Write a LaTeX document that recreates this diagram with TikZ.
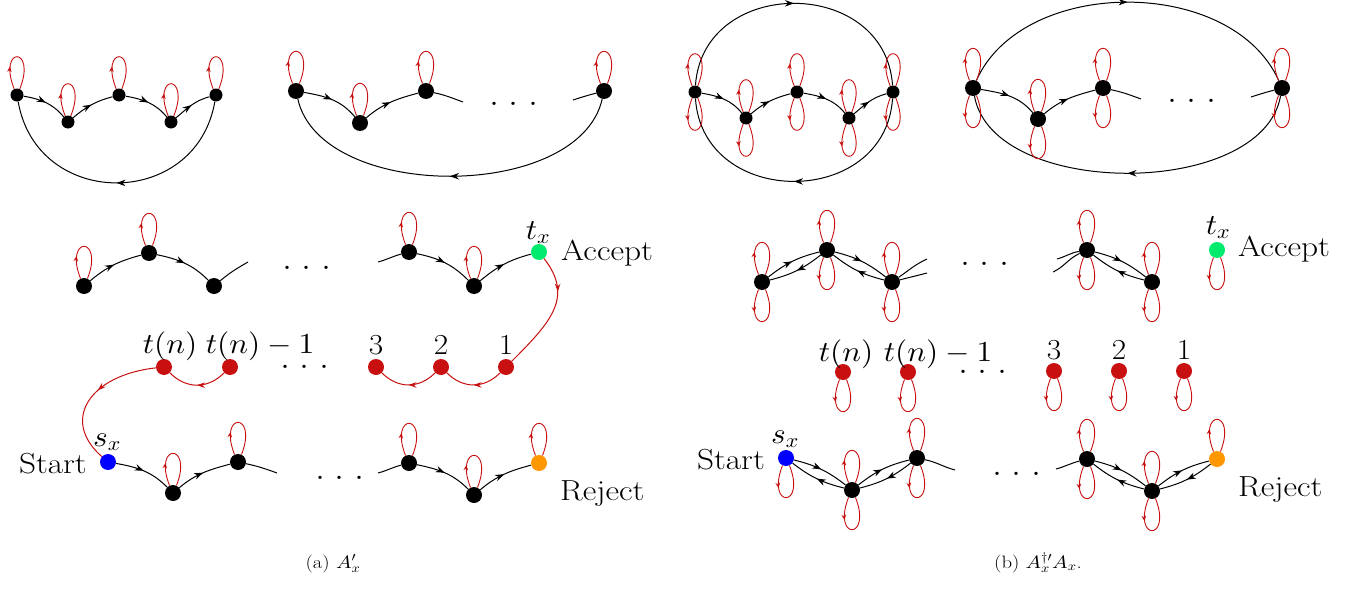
\documentclass[tikz,border=0pt]{standalone}
\usepackage{fontspec}
\DeclareFontShape{OML}{cmm}{m}{it}{<->cmmi10}{}
\DeclareFontShape{OMS}{cmsy}{m}{n}{<->cmsy10}{}
\DeclareFontShape{OT1}{cmr}{m}{n}{<->cmr10}{}
\usetikzlibrary{arrows.meta,decorations.markings}
\definecolor{myred}{RGB}{200,16,16}
\definecolor{mygreen}{RGB}{0,235,110}
\definecolor{myblue}{RGB}{0,0,255}
\definecolor{myorange}{RGB}{255,152,0}
\newcommand\uplp[1]{\draw[lpst] (#1.115) .. controls +(-17,43) and +(17,43) .. (#1.65);}
\newcommand\dnlp[1]{\draw[lpst] (#1.245) .. controls +(-17,-43) and +(17,-43) .. (#1.295);}
\newcommand\thdots{{\fontsize{40}{40}\selectfont.\kern9.4pt.\kern9.4pt.}}
\newcommand\wx[1]{\scalebox{1.15}[1]{#1}}
\newcommand\mx[1]{\scalebox{1.08}[1]{#1}}
\begin{document}
\begin{tikzpicture}[x=1pt,y=1pt,
 stn/.style={circle,fill=black,inner sep=0pt,minimum size=16pt},
 sml/.style={stn,minimum size=13pt},
 ed/.style={line width=1pt, postaction={decorate}, decoration={markings, mark=at position #1 with {\arrow{Stealth[length=9pt,width=6.5pt]}}}},
 ed/.default=0.5,
 redge/.style={myred, line width=1pt, postaction={decorate}, decoration={markings, mark=at position #1 with {\arrow{Stealth[length=8pt,width=5.5pt]}}}},
 redge/.default=0.5,
 stub/.style={line width=1pt},
 lpst/.style={myred, line width=0.9pt, postaction={decorate}, decoration={markings, mark=at position 0.32 with {\arrow{Stealth[length=5.5pt,width=4.5pt]}}}},
 lbl/.style={font=\fontsize{29}{32}\selectfont, inner sep=0pt},
 captxt/.style={font=\fontsize{18}{20}\selectfont, inner sep=0pt}]
\useasboundingbox (0,0) rectangle (1369,-589);

% ================= (a) =================
\node[sml] (a1) at (17,-95) {};
\node[sml] (a2) at (68,-122) {};
\node[sml] (a3) at (119,-95) {};
\node[sml] (a4) at (171,-122) {};
\node[sml] (a5) at (216,-95) {};
\draw[ed] (a1) to[out=-10,in=130] (a2);
\draw[ed] (a2) to[out=40,in=195] (a3);
\draw[ed] (a3) to[out=-10,in=130] (a4);
\draw[ed] (a4) to[out=40,in=195] (a5);
\draw[ed] (a5) .. controls +(-20,-115) and +(20,-115) .. (a1);
\foreach \n in {a1,a2,a3,a4,a5} {\uplp{\n}}

\node[stn] (b1) at (296,-91) {};
\node[stn] (b2) at (360,-123) {};
\node[stn] (b3) at (426,-91) {};
\node[stn] (b4) at (604,-91) {};
\coordinate (b3s) at (463,-102);
\coordinate (b4s) at (573,-100);
\draw[ed] (b1) to[out=-10,in=130] (b2);
\draw[ed] (b2) to[out=40,in=195] (b3);
\draw[stub] (b3) to[out=-12,in=160] (b3s);
\draw[stub] (b4s) to[out=18,in=195] (b4);
\draw[ed] (b4) .. controls +(-25,-111) and +(25,-111) .. (b1);
\foreach \n in {b1,b2,b3,b4} {\uplp{\n}}
\node[lbl,anchor=base] (dA1) at (514,-105.5) {\thdots};

\node[stn] (c1) at (84,-286) {};
\node[stn] (c2) at (149,-253) {};
\node[stn] (c3) at (214,-286) {};
\coordinate (c3s) at (248,-262);
\coordinate (c4s) at (378,-262);
\node[stn] (c4) at (409,-252) {};
\node[stn] (c5) at (474,-286) {};
\node[stn,fill=mygreen] (tx) at (539,-252) {};
\draw[ed] (c1) to[out=40,in=195] (c2);
\draw[ed] (c2) to[out=-12,in=135] (c3);
\draw[stub] (c3) to[out=40,in=210] (c3s);
\draw[stub] (c4s) to[out=15,in=195] (c4);
\draw[ed] (c4) to[out=-12,in=135] (c5);
\draw[ed] (c5) to[out=40,in=195] (tx);
\foreach \n in {c1,c2,c4,c5} {\uplp{\n}}
\node[lbl,anchor=base] (dA2) at (307,-269) {\thdots};
\node[lbl,anchor=base] (ltx) at (538,-239) {\mx{$t_x$}};
\node[lbl,anchor=base west] (lacc) at (561,-260) {\wx{Accept}};

\node[stn,fill=myred] (rtn) at (164,-367) {};
\node[stn,fill=myred] (rtn1) at (230,-367) {};
\node[stn,fill=myred] (r3) at (376,-367) {};
\node[stn,fill=myred] (r2) at (441,-367) {};
\node[stn,fill=myred] (r1) at (506,-367) {};
\node[lbl,anchor=base] (dA3) at (305,-368) {\thdots};
\node[lbl,anchor=base] (lrtn) at (170,-353) {\mx{$t(n)$}};
\node[lbl,anchor=base] (lrtn1) at (260,-353) {\mx{$t(n)-1$}};
\node[lbl,anchor=base] (lr3) at (376,-354) {\mx{3}};
\node[lbl,anchor=base] (lr2) at (441,-354) {\mx{2}};
\node[lbl,anchor=base] (lr1) at (506,-354) {\mx{1}};

\node[stn,fill=myblue] (sx) at (108,-462) {};
\node[stn] (d1) at (173,-493) {};
\node[stn] (d2) at (238,-462) {};
\coordinate (d2s) at (277,-473);
\coordinate (d3s) at (378,-473);
\node[stn] (d3) at (409,-463) {};
\node[stn] (d4) at (474,-495) {};
\node[stn,fill=myorange] (rej) at (539,-463) {};
\draw[ed] (sx) to[out=-10,in=135] (d1);
\draw[ed] (d1) to[out=40,in=195] (d2);
\draw[stub] (d2) to[out=-12,in=160] (d2s);
\draw[stub] (d3s) to[out=15,in=195] (d3);
\draw[ed] (d3) to[out=-12,in=135] (d4);
\draw[ed] (d4) to[out=40,in=195] (rej);
\foreach \n in {d1,d2,d3,d4,rej} {\uplp{\n}}
\node[lbl,anchor=base] (dA4) at (340,-479) {\thdots};
\node[lbl,anchor=base] (lsx) at (107,-446) {\mx{$s_x$}};
\node[lbl,anchor=base east] (lstart) at (87,-473) {\wx{Start}};
\node[lbl,anchor=base west] (lrej) at (560,-500) {\wx{Reject}};

\draw[redge=0.3] (tx) .. controls +(35,-45) and +(45,45) .. (r1);
\draw[redge] (r1) to[bend left=45,looseness=1.1] (r2);
\draw[redge] (r2) to[bend left=45,looseness=1.1] (r3);
\draw[redge] (rtn1) to[bend left=45,looseness=1.1] (rtn);
\draw[redge=0.45] (rtn) .. controls +(-74,-8) and +(-48,42) .. (sx);

\node[captxt,anchor=base] (capa) at (333,-568) {\wx{(a) $A'_x$}};

% ================= (b) =================
\node[sml] (e1) at (695,-92) {};
\node[sml] (e2) at (746,-118) {};
\node[sml] (e3) at (797,-92) {};
\node[sml] (e4) at (849,-118) {};
\node[sml] (e5) at (893,-92) {};
\draw[ed] (e1) to[out=-10,in=130] (e2);
\draw[ed] (e2) to[out=40,in=195] (e3);
\draw[ed] (e3) to[out=-10,in=130] (e4);
\draw[ed] (e4) to[out=40,in=195] (e5);
\draw[ed] (e1) .. controls +(8,116) and +(-8,116) .. (e5);
\draw[ed] (e5) .. controls +(-8,-117) and +(8,-117) .. (e1);
\foreach \n in {e1,e2,e3,e4,e5} {\uplp{\n}\dnlp{\n}}

\node[stn] (f1) at (973,-88) {};
\node[stn] (f2) at (1038,-119) {};
\node[stn] (f3) at (1103,-88) {};
\node[stn] (f4) at (1282,-88) {};
\coordinate (f3s) at (1141,-99);
\coordinate (f4s) at (1251,-97);
\draw[ed] (f1) to[out=-10,in=130] (f2);
\draw[ed] (f2) to[out=40,in=195] (f3);
\draw[stub] (f3) to[out=-12,in=160] (f3s);
\draw[stub] (f4s) to[out=18,in=195] (f4);
\draw[ed] (f1) .. controls +(50,112) and +(-50,112) .. (f4);
\draw[ed] (f4) .. controls +(-20,-111) and +(20,-111) .. (f1);
\foreach \n in {f1,f2,f3,f4} {\uplp{\n}\dnlp{\n}}
\node[lbl,anchor=base] (dB1) at (1192,-102) {\thdots};

\node[stn] (g1) at (762,-282) {};
\node[stn] (g2) at (827,-250) {};
\node[stn] (g3) at (892,-282) {};
\coordinate (g3a) at (927,-259);
\coordinate (g3b) at (927,-273);
\coordinate (h1a) at (1057,-259);
\coordinate (h1b) at (1053,-272);
\node[stn] (h1) at (1087,-250) {};
\node[stn] (h2) at (1152,-282) {};
\node[stn,fill=mygreen] (txb) at (1217,-250) {};
\draw[ed] (g1) to[bend left=12] (g2);
\draw[ed] (g2) to[bend left=12] (g1);
\draw[ed] (g2) to[bend left=12] (g3);
\draw[ed] (g3) to[bend left=12] (g2);
\draw[stub] (g3) to[out=35,in=205] (g3a);
\draw[stub] (g3) to[out=15,in=195] (g3b);
\draw[stub] (h1a) to[out=15,in=190] (h1);
\draw[stub] (h1b) to[out=25,in=205] (h1);
\draw[ed] (h1) to[bend left=12] (h2);
\draw[ed] (h2) to[bend left=12] (h1);
\foreach \n in {g1,g2,g3,h1,h2} {\uplp{\n}\dnlp{\n}}
\dnlp{txb}
\node[lbl,anchor=base] (dB2) at (985,-265) {\thdots};
\node[lbl,anchor=base] (ltxb) at (1218,-234) {\mx{$t_x$}};
\node[lbl,anchor=base west] (laccb) at (1238,-256) {\wx{Accept}};

\node[stn,fill=myred] (ptn) at (843,-372) {};
\node[stn,fill=myred] (ptn1) at (908,-372) {};
\node[stn,fill=myred] (p3) at (1054,-371) {};
\node[stn,fill=myred] (p2) at (1119,-371) {};
\node[stn,fill=myred] (p1) at (1184,-371) {};
\foreach \n in {ptn,ptn1,p3,p2,p1} {\dnlp{\n}}
\node[lbl,anchor=base] (dB3) at (983,-373) {\thdots};
\node[lbl,anchor=base] (lptn) at (846,-361) {\mx{$t(n)$}};
\node[lbl,anchor=base] (lptn1) at (938,-361) {\mx{$t(n)-1$}};
\node[lbl,anchor=base] (lp3) at (1054,-359) {\mx{3}};
\node[lbl,anchor=base] (lp2) at (1119,-359) {\mx{2}};
\node[lbl,anchor=base] (lp1) at (1184,-359) {\mx{1}};

\node[stn,fill=myblue] (sxb) at (786,-458) {};
\node[stn] (k1) at (852,-490) {};
\node[stn] (k2) at (917,-458) {};
\coordinate (k2s) at (955,-470);
\coordinate (k3s) at (1056,-469);
\node[stn] (k3) at (1087,-459) {};
\node[stn] (k4) at (1152,-491) {};
\node[stn,fill=myorange] (rejb) at (1217,-459) {};
\draw[ed] (sxb) to[bend left=12] (k1);
\draw[ed] (k1) to[bend left=12] (sxb);
\draw[ed] (k1) to[bend left=12] (k2);
\draw[ed] (k2) to[bend left=12] (k1);
\draw[stub] (k2) to[out=-12,in=165] (k2s);
\draw[stub] (k3s) to[out=15,in=195] (k3);
\draw[ed] (k3) to[bend left=12] (k4);
\draw[ed] (k4) to[bend left=12] (k3);
\draw[ed] (k4) to[bend left=12] (rejb);
\draw[ed] (rejb) to[bend left=12] (k4);
\foreach \n in {k1,k2,k3,k4} {\uplp{\n}\dnlp{\n}}
\dnlp{sxb}
\uplp{rejb}
\node[lbl,anchor=base] (dB4) at (1017,-475) {\thdots};
\node[lbl,anchor=base] (lsxb) at (785,-443) {\mx{$s_x$}};
\node[lbl,anchor=base east] (lstartb) at (765,-469) {\wx{Start}};
\node[lbl,anchor=base west] (lrejb) at (1238,-496) {\wx{Reject}};

\node[captxt,anchor=base] (capb) at (1038,-568) {\wx{(b) $A_x^{\dagger\prime}A_x$.}};
\end{tikzpicture}
\end{document}
